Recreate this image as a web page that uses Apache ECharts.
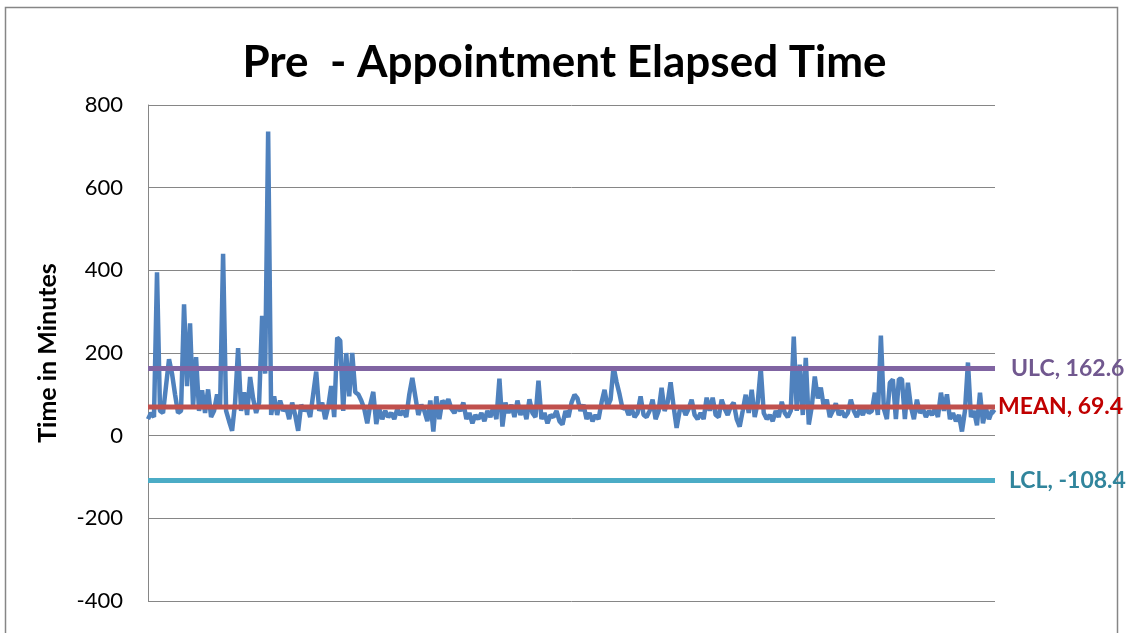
<!DOCTYPE html>
<html>
<head>
<meta charset="UTF-8">
<title>Pre - Appointment Elapsed Time</title>
<script src="https://cdn.jsdelivr.net/npm/echarts@6/dist/echarts.min.js"></script>
<style>
  html, body { margin: 0; padding: 0; background: #fff; }
  #chart { width: 1129px; height: 633px; }
</style>
</head>
<body>
<div id="chart"></div>
<script>
// elapsed minutes, one value per appointment
var elapsed = [
  40, 55, 45, 395, 60, 55, 120, 185, 150, 100,
  55, 60, 318, 120, 272, 70, 190, 60, 110, 55,
  112, 45, 60, 100, 70, 440, 60, 35, 12, 80,
  212, 60, 105, 50, 142, 90, 55, 80, 290, 150,
  736, 50, 95, 50, 85, 60, 70, 40, 80, 50,
  12, 75, 60, 70, 45, 100, 155, 60, 80, 40,
  70, 120, 45, 237, 230, 60, 200, 95, 200, 105,
  100, 85, 65, 30, 75, 106, 28, 65, 40, 60,
  45, 55, 40, 65, 50, 60, 45, 100, 140, 95,
  50, 75, 60, 35, 85, 10, 95, 40, 85, 75,
  88, 65, 55, 70, 60, 80, 40, 55, 30, 50,
  40, 55, 35, 60, 45, 70, 40, 138, 22, 80,
  55, 75, 45, 85, 50, 70, 40, 88, 55, 45,
  133, 40, 55, 30, 50, 45, 60, 35, 27, 60,
  45, 80, 99, 90, 60, 75, 40, 55, 35, 50,
  40, 80, 111, 70, 87, 167, 130, 100, 65, 70,
  50, 65, 45, 55, 95, 50, 45, 60, 87, 40,
  60, 116, 60, 80, 129, 70, 19, 60, 70, 50,
  65, 87, 50, 40, 55, 40, 92, 60, 92, 50,
  45, 87, 65, 50, 70, 80, 40, 22, 60, 99,
  55, 111, 45, 80, 164, 55, 40, 50, 35, 60,
  45, 82, 55, 45, 60, 240, 60, 172, 50, 188,
  27, 70, 143, 90, 116, 70, 87, 45, 60, 78,
  50, 60, 45, 55, 87, 60, 45, 65, 50, 70,
  55, 60, 104, 50, 242, 65, 40, 128, 136, 40,
  137, 137, 40, 128, 70, 40, 87, 55, 65, 45,
  60, 50, 65, 45, 104, 60, 100, 40, 55, 35,
  50, 10, 60, 177, 45, 60, 25, 104, 30, 65,
  40, 60, 55
];
var ulc = 162.6;
var mean = 69.4;
var lcl = -108.4;
var yTicks = [-400, -200, 0, 200, 400, 600, 800];

var categories = elapsed.map(function (v, i) { return i + 1; });
function flat(v) { return elapsed.map(function () { return v; }); }

var chart = echarts.init(document.getElementById('chart'), null, { renderer: 'canvas' });

var font = 'Lato, "Open Sans", "Liberation Sans", sans-serif';

chart.setOption({
  animation: false,
  backgroundColor: '#fff',
  title: {
    text: 'Pre  - Appointment Elapsed Time',
    left: 'center',
    top: 36,
    textStyle: { fontFamily: font, fontSize: 44, fontWeight: 'bold', color: '#000' }
  },
  graphic: [{
    type: 'rect',
    shape: { x: 5.5, y: 7.5, width: 1112, height: 640 },
    style: { fill: null, stroke: '#868686', lineWidth: 1.5 },
    silent: true
  }],
  grid: { left: 148, right: 134, top: 105, bottom: 32 },
  xAxis: {
    type: 'category',
    data: categories,
    boundaryGap: false,
    axisLine: { show: false },
    axisTick: { show: false },
    axisLabel: { show: false },
    splitLine: { show: false }
  },
  yAxis: {
    type: 'value',
    min: yTicks[0],
    max: yTicks[yTicks.length - 1],
    interval: 200,
    name: 'Time in Minutes',
    nameLocation: 'middle',
    nameGap: 88,
    nameTextStyle: { fontFamily: font, fontSize: 25, fontWeight: 'bold', color: '#000' },
    axisLine: { show: true, lineStyle: { color: '#868686', width: 1 } },
    axisTick: { show: false },
    axisLabel: { fontFamily: font, fontSize: 22, color: '#000', margin: 25 },
    splitLine: { lineStyle: { color: '#868686', width: 1 } }
  },
  series: [
    {
      name: 'Time',
      type: 'line',
      data: elapsed,
      symbol: 'none',
      lineStyle: { color: '#4F81BD', width: 4.5 },
      z: 3
    },
    {
      name: 'ULC',
      type: 'line',
      data: flat(ulc),
      symbol: 'none',
      lineStyle: { color: '#8064A2', width: 5 },
      endLabel: {
        show: true, distance: 16,
        formatter: 'ULC, ' + ulc,
        fontFamily: font, fontSize: 23, fontWeight: 'bold', color: '#71588F'
      },
      z: 4
    },
    {
      name: 'MEAN',
      type: 'line',
      data: flat(mean),
      symbol: 'none',
      lineStyle: { color: '#C0504D', width: 5 },
      endLabel: {
        show: true, distance: 3,
        formatter: 'MEAN, ' + mean,
        fontFamily: font, fontSize: 23, fontWeight: 'bold', color: '#C00000'
      },
      z: 4
    },
    {
      name: 'LCL',
      type: 'line',
      data: flat(lcl),
      symbol: 'none',
      lineStyle: { color: '#4BACC6', width: 5 },
      endLabel: {
        show: true, distance: 14,
        formatter: 'LCL, ' + lcl,
        fontFamily: font, fontSize: 23, fontWeight: 'bold', color: '#31859C'
      },
      z: 4
    }
  ]
});
</script>
</body>
</html>
